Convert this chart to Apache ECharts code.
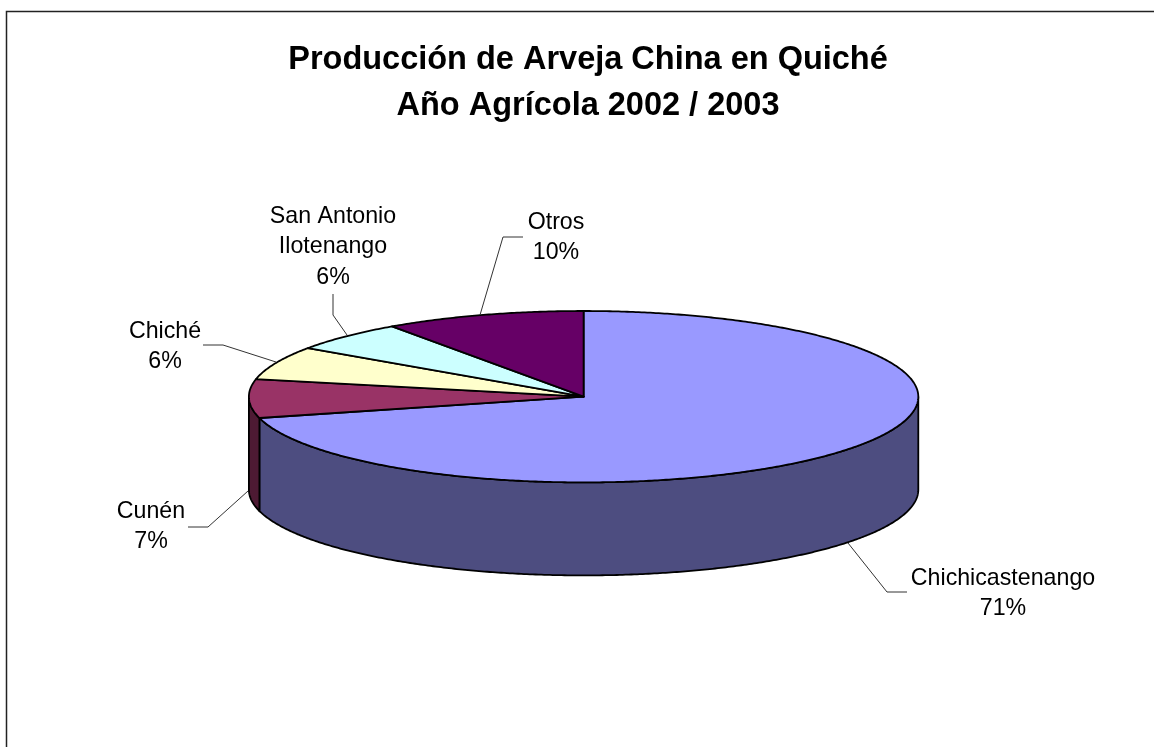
<!DOCTYPE html>
<html>
<head>
<meta charset="utf-8">
<style>html,body{margin:0;padding:0;background:#fff}#c{width:1154px;height:747px}</style>
<script src="https://cdn.jsdelivr.net/npm/echarts@6/dist/echarts.min.js"></script>
</head>
<body>
<div id="c"></div>
<script>
const categories = ['Chichicastenango', 'Cunén', 'Chiché', 'San Antonio\nIlotenango', 'Otros'];
const values = [71, 7.3, 6.3, 5.7, 9.7];
const topColors = ['#9999FF', '#993366', '#FFFFCC', '#CCFFFF', '#660066'];
const sideColors = ['#4D4D80', '#4D1A33', '#80806A', '#6A8080', '#330033'];
const titleLines = ['Producción de Arveja China en Quiché', 'Año Agrícola 2002 / 2003'];

// Layout only
const FONT = '"Liberation Sans", Arial, sans-serif';
const cx = 583.6, cy = 396.7, rx = 334.7, ry = 85.7, depth = 93;
const labelPos = [[1003, 593.5], [151, 526.5], [165, 346.5], [333, 247], [556, 237.5]];
const leaders = [
  [[848, 543], [887, 592], [907, 592]],
  [[248, 491], [208, 527], [188, 527]],
  [[276, 362], [223, 345], [203, 345]],
  [[347, 335], [333, 315], [333, 294]],
  [[480, 315], [503, 237], [523, 237]]
];

const total = values.reduce((a, b) => a + b, 0);
const pt = (deg, dy) => {
  const t = deg * Math.PI / 180;
  return [cx + rx * Math.sin(t), cy - ry * Math.cos(t) + (dy || 0)];
};
const arc = (a, b, dy) => {
  const n = Math.max(2, Math.ceil(Math.abs(b - a) * 2));
  const out = [];
  for (let i = 0; i <= n; i++) out.push(pt(a + (b - a) * i / n, dy));
  return out;
};

function renderItem(params, api) {
  const i = params.dataIndex;
  let acc = 0;
  for (let k = 0; k < i; k++) acc += values[k];
  const a = acc / total * 360;
  const b = (acc + api.value(0)) / total * 360;
  const children = [];
  const edge = { stroke: '#000', lineWidth: 1.8, lineJoin: 'round' };

  // visible wall: the part of the slice on the front half of the ellipse
  const s = Math.max(a, 90), e = Math.min(b, 270);
  if (e > s) {
    const front = arc(s, e, 0);
    const back = arc(e, s, depth);
    children.push({
      type: 'polygon',
      shape: { points: front.concat(back) },
      style: Object.assign({ fill: sideColors[i] }, edge)
    });
  }
  // top face
  children.push({
    type: 'polygon',
    shape: { points: [[cx, cy]].concat(arc(a, b, 0)) },
    style: Object.assign({ fill: topColors[i] }, edge)
  });
  // leader line
  children.push({
    type: 'polyline',
    shape: { points: leaders[i] },
    style: { stroke: '#333', lineWidth: 1, fill: null }
  });
  // label
  children.push({
    type: 'text',
    x: labelPos[i][0],
    y: labelPos[i][1],
    style: {
      text: categories[i] + '\n' + Math.round(api.value(0)) + '%',
      font: '23.2px ' + FONT,
      fill: '#000',
      lineHeight: 30.5,
      align: 'center',
      verticalAlign: 'middle'
    }
  });
  return { type: 'group', children };
}

const chart = echarts.init(document.getElementById('c'), null, { renderer: 'canvas' });
chart.setOption({
  animation: false,
  backgroundColor: '#fff',
  title: {
    text: titleLines.join('\n'),
    left: 583,
    top: 32,
    textAlign: 'center',
    textStyle: { fontFamily: FONT, fontSize: 32.5, fontWeight: 'bold', color: '#000', lineHeight: 46 }
  },
  graphic: [
    { type: 'polyline', silent: true, shape: { points: [[6.5, 747], [6.5, 11.5], [1154, 11.5]] },
      style: { stroke: '#222', lineWidth: 1.5, fill: null } }
  ],
  series: [{
    type: 'custom',
    coordinateSystem: 'none',
    silent: true,
    renderItem,
    data: values.map((v, i) => ({ name: categories[i], value: [v] }))
  }]
});
</script>
</body>
</html>
